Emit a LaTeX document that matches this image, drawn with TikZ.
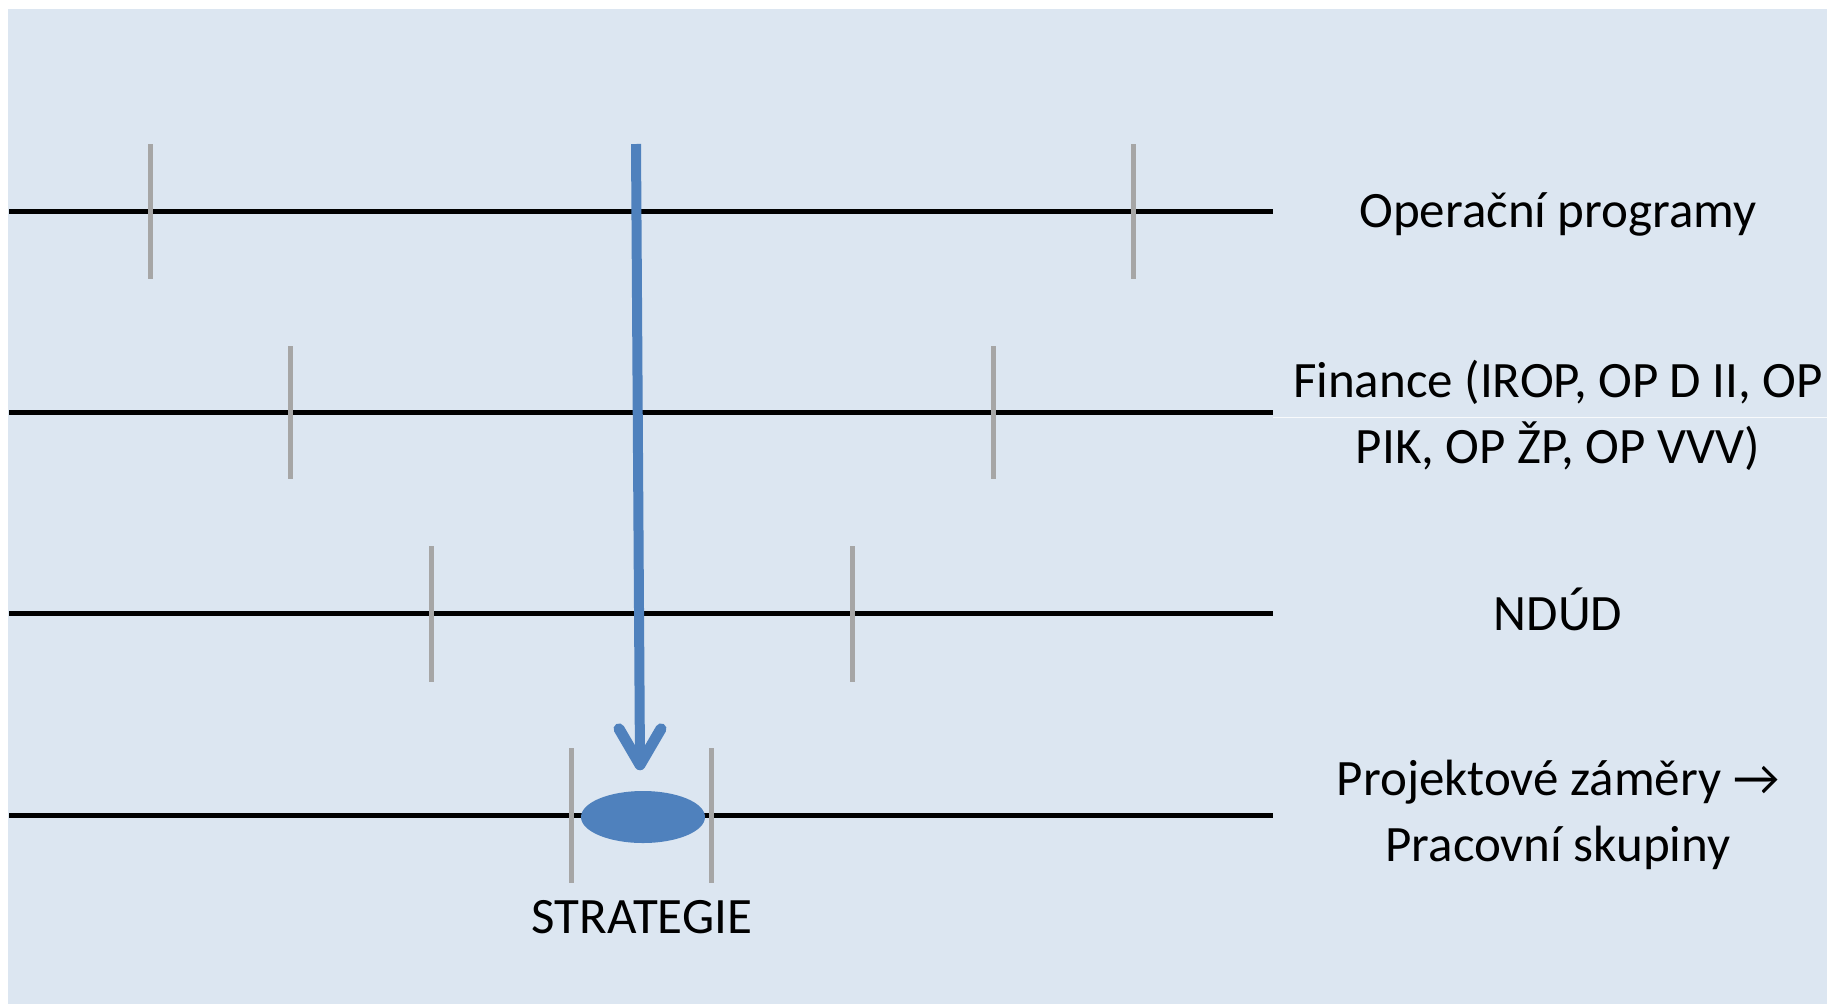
\documentclass[tikz,border=0pt]{standalone}
\usepackage{fontspec}
\setmainfont{Carlito}
\usetikzlibrary{shapes.geometric,calc}
\definecolor{bgblue}{HTML}{DCE6F1}
\definecolor{accent}{HTML}{4F81BD}
\definecolor{tickgray}{HTML}{A6A6A6}
\begin{document}
\begin{tikzpicture}[x=1pt,y=-1pt,
  timeline/.style={line width=5pt,black},
  marker/.style={line width=5pt,tickgray},
  lbl/.style={font=\fontsize{51}{66}\selectfont, inner sep=0pt, align=center},
  arrowline/.style={accent,line width=10pt},
  arrowhead/.style={accent,line width=11pt,line cap=round,line join=round}]
\useasboundingbox (0,0) rectangle (1827,1004);
\fill[white] (0,0) rectangle (1827,1004);
\fill[bgblue] (8,9) rectangle (1827,1004);
\draw[white,line width=1pt,opacity=0.8] (1273,417) -- (1827,417);
% timelines
\foreach \y/\n in {211/a,412/b,613/c,815/d}{
  \coordinate (s\n) at (9,\y);
  \coordinate (e\n) at (1273,\y);
  \draw[timeline] (s\n) -- (e\n);
}
% markers
\foreach \x/\ya/\yb in {150/144/279,1133/144/279,290/346/479,993/346/479,431/546/682,852/546/682,571/748/883,711/748/883}{
  \draw[marker] (\x,\ya) -- (\x,\yb);
}
% strategy ellipse
\node[ellipse,fill=accent,minimum width=124pt,minimum height=52pt,inner sep=0pt] (strat) at (643,817) {};
% arrow
\coordinate (astart) at (636,144);
\coordinate (tip) at ($(strat.north)+(-3,-26)$);
\draw[arrowline] (astart) -- (tip);
\draw[arrowhead] ($(tip)+(-21,-36)$) -- (tip) -- ($(tip)+(21,-36)$);
% labels (base anchor = baseline of the last line)
\node[lbl,anchor=base] (op) at (1558,227) {Operační programy};
\node[lbl,anchor=base] (fin) at (1558,463) {Finance (IROP, OP D II, OP\\PIK, OP ŽP, OP VVV)};
\node[lbl,anchor=base] (ndud) at (1558,630) {NDÚD};
\node[lbl,anchor=base] (proj) at (1558,861) {Projektové záměry →\\Pracovní skupiny};
\node[lbl,anchor=base] (stratlbl) at (642,933) {STRATEGIE};
\end{tikzpicture}
\end{document}
